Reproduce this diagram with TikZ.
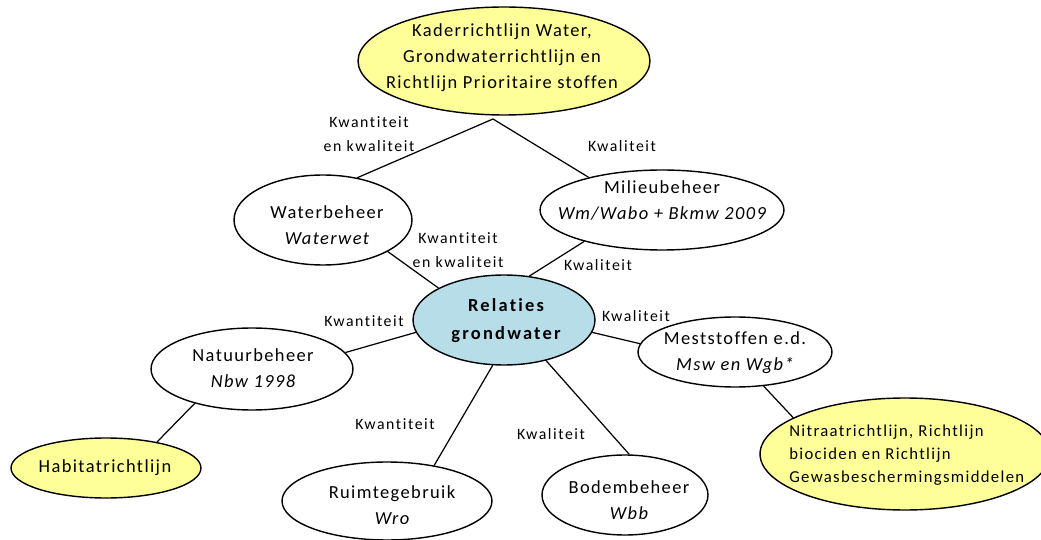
\documentclass[tikz,border=0pt]{standalone}
\usepackage{fontspec}
\usetikzlibrary{shapes.geometric}
\newfontfamily\fa{Carlito}[LetterSpace=7.5, Ligatures={NoCommon}]
\newfontfamily\fl{Carlito}[LetterSpace=10, Ligatures={NoCommon}]
\newfontfamily\fn{Carlito}[LetterSpace=8, Ligatures={NoCommon}]
\newfontfamily\fb{Carlito}[LetterSpace=12, Ligatures={NoCommon}]
\definecolor{lyel}{RGB}{255,255,153}
\definecolor{lblue}{RGB}{183,222,232}
\tikzset{
  ell/.style={ellipse, draw=black, line width=0.8pt, inner sep=0pt, fill=white},
  yel/.style={ell, fill=lyel},
  txt/.style={inner sep=0pt, align=center, font=\fontsize{10.5}{14.8}\fa},
  lab/.style={inner sep=0pt, align=center, font=\fontsize{9}{13.6}\fl},
  con/.style={line width=0.7pt}
}
\begin{document}
\begin{tikzpicture}[x=0.02cm, y=-0.02cm]
\useasboundingbox (0,0) rectangle (1041,540);
% ellipses
\node[yel, minimum width=5.84cm, minimum height=2.16cm] (top) at (504,61) {};
\node[ell, minimum width=3.56cm, minimum height=1.80cm] (wb) at (323,220) {};
\node[ell, minimum width=4.88cm, minimum height=1.60cm] (mb) at (662,210) {};
\node[ell, fill=lblue, minimum width=3.64cm, minimum height=1.80cm] (rel) at (504,320) {};
\node[ell, minimum width=4.04cm, minimum height=1.64cm] (nat) at (252,369) {};
\node[ell, minimum width=3.88cm, minimum height=1.40cm] (mest) at (735,352) {};
\node[yel, minimum width=3.80cm, minimum height=1.20cm] (hab) at (106,468) {};
\node[yel, minimum width=5.80cm, minimum height=2.24cm] (nit) at (905,454) {};
\node[ell, minimum width=4.20cm, minimum height=1.56cm] (ruim) at (387,501) {};
\node[ell, minimum width=3.32cm, minimum height=1.60cm] (bod) at (625,495) {};
% texts
\node[txt] (topT) at (502,58) {Kaderrichtlijn Water,\\Grondwaterrichtlijn en\\Richtlijn Prioritaire stoffen};
\node[txt] (wbT) at (327,225) {Waterbeheer\\\itshape Waterwet};
\node[txt] (mbT) at (662,200) {Milieubeheer\\\itshape Wm/Wabo + Bkmw 2009};
\node[txt, font=\fontsize{10.5}{16}\fb\bfseries] (relT) at (506,321) {Relaties\\grondwater};
\node[txt] (natT) at (253,368) {Natuurbeheer\\\itshape Nbw 1998};
\node[txt] (mestT) at (735,353) {Meststoffen e.d.\\\itshape Msw en Wgb*};
\node[txt] (habT) at (105,468) {Habitatrichtlijn};
\node[txt, anchor=west, align=left, font=\fontsize{9.5}{13.2}\fn] (nitT) at (789,455) {Nitraatrichtlijn, Richtlijn\\biociden en Richtlijn\\Gewasbeschermingsmiddelen};
\node[txt] (ruimT) at (392,505) {Ruimtegebruik\\\itshape Wro};
\node[txt] (bodT) at (629,500) {Bodembeheer\\\itshape Wbb};
% connectors
\coordinate (apex) at (493,119);
\draw[con] (apex) -- (wb.51);
\draw[con] (apex) -- (mb.156);
\draw[con] (wb.-26) -- (rel.154);
\draw[con] (mb.202) -- (rel.60);
\draw[con] (rel.188) -- (nat.10);
\draw[con] (rel.-8) -- (mest.175);
\draw[con] (nat.211) -- (hab.27);
\draw[con] (mest.-50) -- (nit.162);
\draw[con] (rel.256) -- (ruim.37);
\draw[con] (rel.-44) -- (bod.84);
% labels
\node[lab] (l1) at (369,134) {Kwantiteit\\en kwaliteit};
\node[lab] (l2) at (622,146) {Kwaliteit};
\node[lab] (l3) at (458,250) {Kwantiteit\\en kwaliteit};
\node[lab] (l4) at (598,265) {Kwaliteit};
\node[lab] (l5) at (364,321) {Kwantiteit};
\node[lab] (l6) at (636,316) {Kwaliteit};
\node[lab] (l7) at (395,424) {Kwantiteit};
\node[lab] (l8) at (551,434) {Kwaliteit};
\end{tikzpicture}
\end{document}
